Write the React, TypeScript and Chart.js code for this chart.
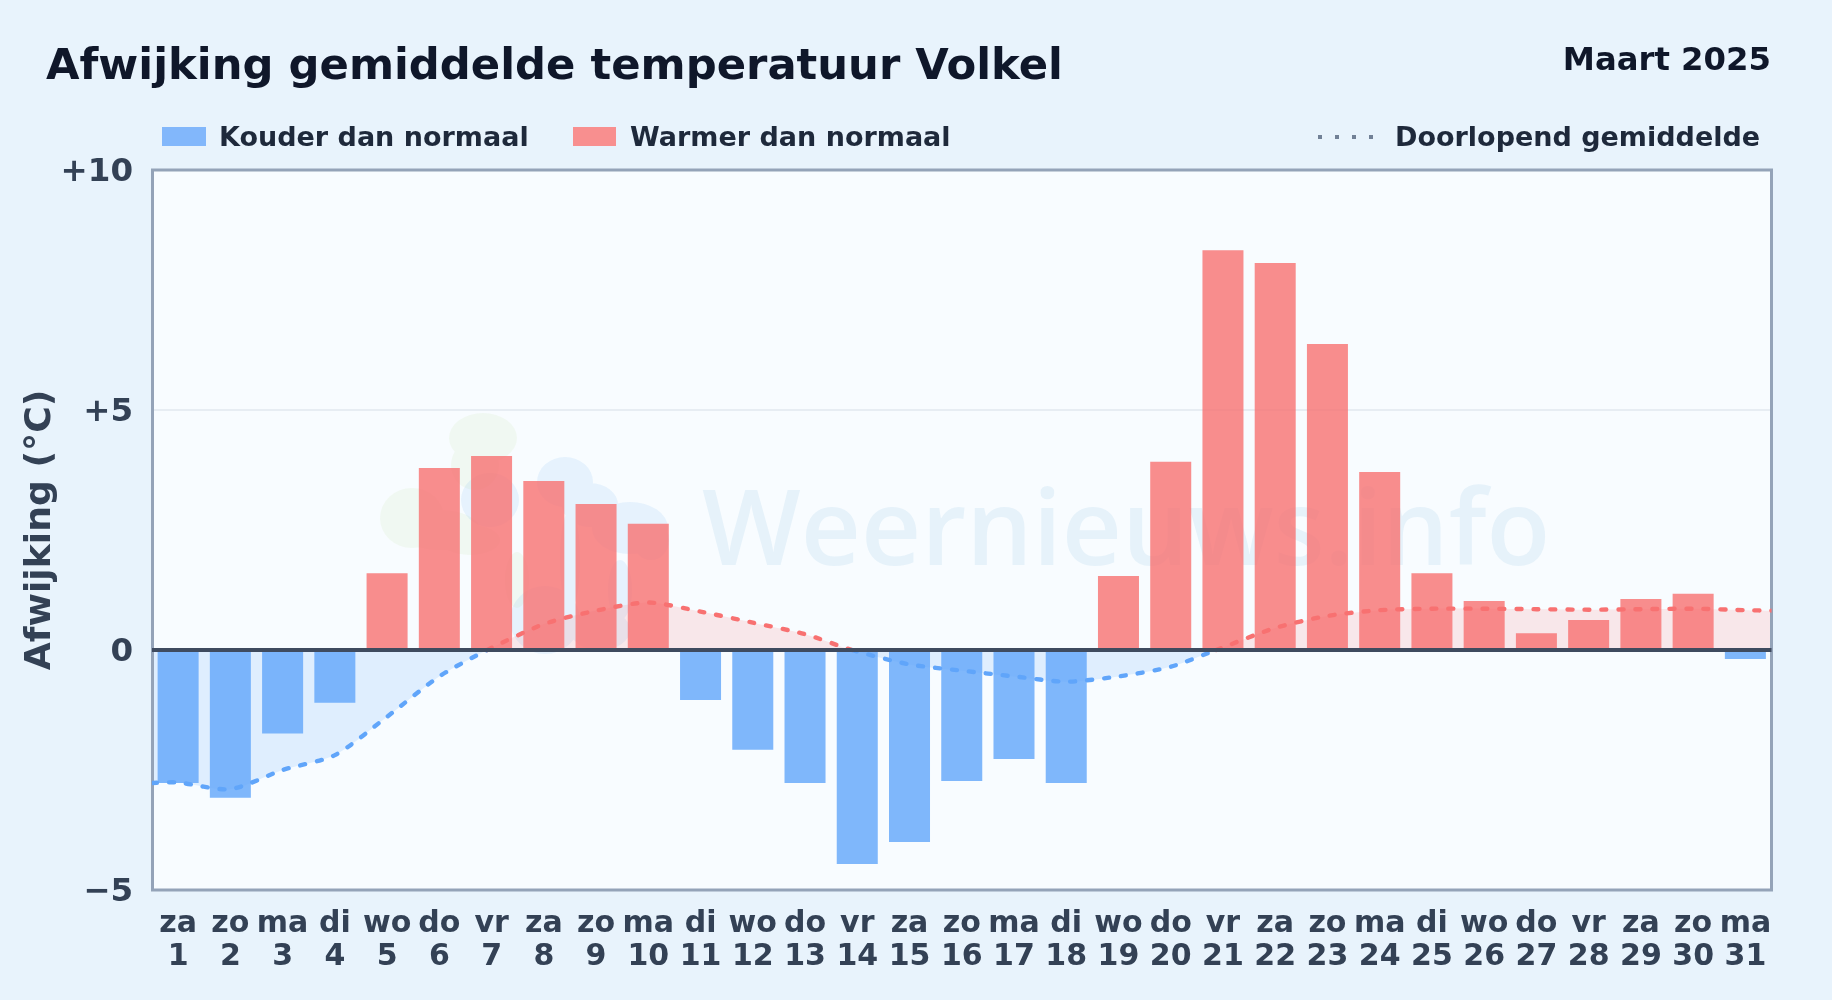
import React, { useEffect, useRef } from "react";
import { Chart, registerables } from "chart.js";

Chart.register(...registerables);

const weekdays = ["za","zo","ma","di","wo","do","vr","za","zo","ma","di","wo","do","vr","za","zo","ma","di","wo","do","vr","za","zo","ma","di","wo","do","vr","za","zo","ma"];
const dayNumbers = ["1","2","3","4","5","6","7","8","9","10","11","12","13","14","15","16","17","18","19","20","21","22","23","24","25","26","27","28","29","30","31"];
const deviations = [-2.77,-3.08,-1.74,-1.1,1.6,3.79,4.04,3.52,3.04,2.63,-1.04,-2.08,-2.77,-4.46,-4.0,-2.73,-2.27,-2.77,1.54,3.92,8.33,8.06,6.375,3.71,1.6,1.02,0.35,0.625,1.06,1.17,-0.19];
const rollingDays = [0.5,1,2,3,4,5,6,6.92,8,9,10,11,12,13,13.9,15,16,17,18,19,20,20.87,22,23,24,25,26,27,28,29,30,31,31.5];
const rollingValues = [-2.77,-2.76,-2.9,-2.5,-2.19,-1.39,-0.55,0,0.54,0.82,0.99,0.8,0.57,0.33,0,-0.3,-0.43,-0.55,-0.66,-0.55,-0.35,0,0.46,0.71,0.83,0.86,0.86,0.85,0.84,0.85,0.86,0.83,0.82];
const axisEnds = [0.5, 31.5];
const axisZero = [0, 0];
const yTickLabels: Record<string, string> = { "10": "+10", "5": "+5", "0": "0", "-5": "−5" };

const titleText = "Afwijking gemiddelde temperatuur Volkel";
const monthText = "Maart 2025";
const coldName = "Kouder dan normaal";
const warmName = "Warmer dan normaal";
const meanName = "Doorlopend gemiddelde";
const yAxisName = "Afwijking (°C)";
const watermarkText = "Weernieuws.info";

const FONT = "'DejaVu Sans', sans-serif";
const COLD = "rgba(96,165,250,0.8)";
const WARM = "rgba(248,113,113,0.8)";

const blob = (ctx: CanvasRenderingContext2D, color: string, pts: number[][]) => {
  ctx.fillStyle = color;
  ctx.beginPath();
  pts.forEach(([x, y, rx, ry]) => {
    ctx.moveTo(x + rx, y);
    ctx.ellipse(x, y, rx, ry, 0, 0, Math.PI * 2);
  });
  ctx.fill();
};

const backdrop = {
  id: "backdrop",
  beforeDraw(chart: any) {
    const { ctx, chartArea: a } = chart;
    ctx.save();
    ctx.fillStyle = "#f8fcff";
    ctx.fillRect(a.left, a.top, a.right - a.left, a.bottom - a.top);
    const green = "rgba(190,225,150,0.12)";
    const blue = "rgba(120,185,240,0.14)";
    blob(ctx, green, [[483, 438, 34, 25], [475, 465, 24, 25], [412, 518, 32, 30], [440, 530, 40, 20], [470, 540, 30, 15], [517, 580, 12, 28]]);
    blob(ctx, blue, [[565, 482, 28, 25], [590, 505, 28, 22], [630, 528, 38, 26], [651, 540, 18, 20], [490, 500, 29, 27], [570, 560, 10, 50], [545, 620, 35, 34], [600, 630, 30, 20], [620, 590, 12, 30]]);
    ctx.fillStyle = "rgba(50,140,200,0.085)";
    ctx.font = "600 104.5px 'Open Sans', sans-serif";
    ctx.textBaseline = "alphabetic";
    ctx.textAlign = "left";
    ctx.fillText(watermarkText, 702, 565);
    ctx.restore();
  },
  beforeDatasetsDraw(chart: any) {
    const { ctx, chartArea: a } = chart;
    ctx.save();
    ctx.strokeStyle = "#94a3b8";
    ctx.lineWidth = 3;
    ctx.strokeRect(a.left + 0.5, a.top, a.right - a.left - 0.5, a.bottom - a.top);
    ctx.restore();
  },
};

const legendText: React.CSSProperties = {
  position: "absolute",
  font: `bold 27px ${FONT}`,
  color: "#1e293b",
  whiteSpace: "nowrap",
  lineHeight: "30px",
  top: 122,
};

export default function App() {
  const ref = useRef<HTMLCanvasElement>(null);
  useEffect(() => {
    const chart = new Chart(ref.current!, {
      type: "bar",
      plugins: [backdrop],
      data: {
        labels: weekdays.map((d, i) => [d, dayNumbers[i]]),
        datasets: [
          {
            label: meanName,
            type: "line",
            xAxisID: "x2",
            order: 1,
            data: rollingDays.map((x, i) => ({ x, y: rollingValues[i] })),
            borderWidth: 4.4,
            borderDash: [5, 12],
            borderCapStyle: "round",
            tension: 0.25,
            pointRadius: 0,
            fill: { target: { value: 0 }, above: "rgba(248,113,113,0.15)", below: "rgba(96,165,250,0.16)" },
            segment: {
              borderColor: (c: any) => (c.p0.parsed.y + c.p1.parsed.y < 0 ? "#60a5fa" : "#f87171"),
            },
          },
          {
            label: "nul",
            type: "line",
            xAxisID: "x2",
            order: 0,
            data: axisEnds.map((x, i) => ({ x, y: axisZero[i] })),
            borderColor: "#3f4b5f",
            borderWidth: 4,
            pointRadius: 0,
            clip: false,
          },
          {
            label: coldName,
            order: 3,
            data: deviations.map((v) => (v < 0 ? v : null)),
            backgroundColor: COLD,
            grouped: false,
            barPercentage: 0.785,
            categoryPercentage: 1,
          },
          {
            label: warmName,
            order: 3,
            data: deviations.map((v) => (v > 0 ? v : null)),
            backgroundColor: WARM,
            grouped: false,
            barPercentage: 0.785,
            categoryPercentage: 1,
          },
        ],
      } as any,
      options: {
        responsive: false,
        animation: false,
        layout: { padding: { top: 170, right: 60.5, left: 0, bottom: 0 } },
        plugins: {
          legend: { display: false },
          tooltip: { enabled: false },
          title: { display: false },
          filler: { drawTime: "beforeDatasetsDraw" },
        },
        scales: {
          x: {
            type: "category",
            offset: true,
            grid: { display: false },
            border: { display: false },
            ticks: {
              color: "#334155",
              font: { family: FONT, size: 30, weight: "bold", lineHeight: 1.12 },
              maxRotation: 0,
              autoSkip: false,
              padding: 9,
            },
            afterFit: (s: any) => { s.height = 110; },
          },
          x2: { type: "linear", min: 0.5, max: 31.5, display: false, offset: false, grid: { offset: false } },
          y: {
            min: -5,
            max: 10,
            ticks: {
              stepSize: 5,
              color: "#334155",
              padding: 19,
              labelOffset: 3,
              font: { family: FONT, size: 32.5, weight: "bold" },
              callback: (v: any) => yTickLabels[String(v)],
            },
            grid: { color: "rgba(226,232,240,0.8)", lineWidth: 2, drawTicks: false },
            border: { display: false },
            title: {
              display: true,
              text: yAxisName,
              color: "#334155",
              font: { family: FONT, size: 36.2, weight: "bold" },
              padding: { top: 19, bottom: 0 },
            },
            afterFit: (s: any) => { s.width = 152; },
          },
        },
      } as any,
    });
    return () => chart.destroy();
  }, []);

  return (
    <div style={{ position: "fixed", inset: 0, width: 1832, height: 1000, background: "#e8f3fc", overflow: "hidden", fontFamily: FONT }}>
      <canvas ref={ref} width={1832} height={1000} style={{ position: "absolute", left: 0, top: 0, display: "block" }} />
      <div style={{ position: "absolute", left: 46, top: 39, font: `bold 43.3px ${FONT}`, lineHeight: "50px", color: "#0f172a", whiteSpace: "nowrap" }}>{titleText}</div>
      <div style={{ position: "absolute", right: 61, top: 41, font: `bold 32.3px ${FONT}`, lineHeight: "36px", color: "#0f172a", whiteSpace: "nowrap" }}>{monthText}</div>
      <div style={{ position: "absolute", left: 162, top: 127, width: 44, height: 19, background: "#82b7fb" }} />
      <div style={{ ...legendText, left: 219 }}>{coldName}</div>
      <div style={{ position: "absolute", left: 573, top: 127, width: 43, height: 19, background: "#f88f8f" }} />
      <div style={{ ...legendText, left: 630 }}>{warmName}</div>
      <div style={{ position: "absolute", left: 1318, top: 135, width: 55, height: 4, opacity: 0.9, background: "repeating-linear-gradient(90deg,#64748b 0 4px,transparent 4px 17px)" }} />
      <div style={{ ...legendText, left: 1395 }}>{meanName}</div>
    </div>
  );
}
